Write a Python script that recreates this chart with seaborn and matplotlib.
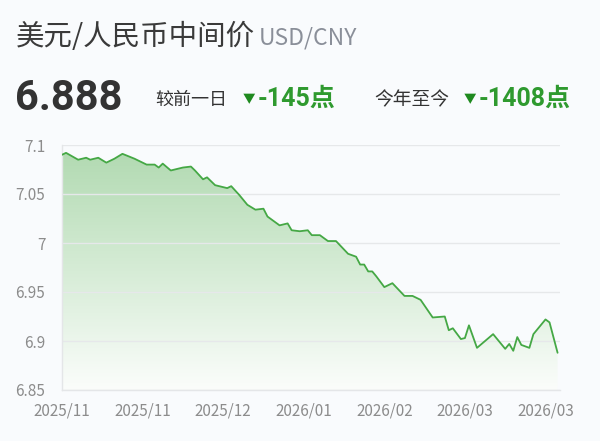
import numpy as np
import matplotlib
matplotlib.use("Agg")
import matplotlib.pyplot as plt
import seaborn as sns
from matplotlib.colors import LinearSegmentedColormap

# trading-day index (from first date shown) and USD/CNY central parity
day = [0, 1, 4, 6, 7, 9, 11, 13, 15, 18,
       21, 23, 24, 25, 27, 30, 32, 33, 35, 36,
       38, 39, 41, 42, 44, 46, 48, 50, 51, 54,
       56, 57, 59, 61, 62, 64, 66, 68, 71, 73,
       74, 75, 76, 77, 78, 80, 82, 85, 87, 88,
       89, 92, 95, 96, 97, 99, 100, 101, 103, 107,
       110, 111, 112, 113, 114, 116, 117, 120, 121, 123]
rate = [7.090, 7.092, 7.085, 7.087, 7.085, 7.087, 7.082, 7.086, 7.091, 7.086,
        7.080, 7.080, 7.077, 7.081, 7.074, 7.077, 7.078, 7.074, 7.065, 7.067,
        7.059, 7.058, 7.056, 7.058, 7.049, 7.039, 7.034, 7.035, 7.027, 7.018,
        7.020, 7.013, 7.012, 7.013, 7.008, 7.008, 7.002, 7.002, 6.989, 6.986,
        6.978, 6.978, 6.971, 6.971, 6.966, 6.955, 6.959, 6.946, 6.946, 6.944,
        6.942, 6.924, 6.925, 6.911, 6.913, 6.902, 6.903, 6.916, 6.893, 6.907,
        6.892, 6.897, 6.890, 6.904, 6.896, 6.893, 6.907, 6.922, 6.919, 6.888]

tick_days = [0, 20, 40, 60, 80, 100, 120]
tick_labels = ["2025/11", "2025/11", "2025/12", "2026/01", "2026/02", "2026/03", "2026/03"]
y_ticks = [6.85, 6.9, 6.95, 7.0, 7.05, 7.1]
y_labels = ["6.85", "6.9", "6.95", "7", "7.05", "7.1"]

latest = "6.888"
day_change = "-145点"
ytd_change = "-1408点"

bg = "#f9fbfd"
green_line = "#45a845"
green_text = "#2f9a2f"

sns.set_theme(style="white")
plt.rcParams["font.family"] = ["Noto Sans CJK SC", "DejaVu Sans"]

fig = plt.figure(figsize=(6, 4.41), dpi=100, facecolor=bg)
ax = fig.add_axes([62 / 600, 1 - 390 / 441, 498 / 600, 245 / 441])
ax.set_facecolor(bg)

xmax = 123.6
ymin, ymax = 6.85, 7.1

# gradient area under the line
cmap = LinearSegmentedColormap.from_list("g", ["#fbfdfb", "#d6ecd6", "#b2dab2"])
grad = np.linspace(0, 1, 256).reshape(-1, 1)
img = ax.imshow(grad, cmap=cmap, aspect="auto", origin="lower",
                extent=[0, xmax, ymin, max(rate)], zorder=0)
poly = ax.fill_between(day, rate, ymin, color="none", lw=0)
img.set_clip_path(poly.get_paths()[0], transform=ax.transData)

sns.lineplot(x=day, y=rate, ax=ax, color=green_line, lw=1.3, zorder=3)

ax.set_xlim(0, xmax)
ax.set_ylim(ymin, ymax)
ax.set_xticks(tick_days)
ax.set_xticklabels(tick_labels)
ax.set_yticks(y_ticks)
ax.set_yticklabels(y_labels)
ax.tick_params(axis="both", length=0, labelsize=11, labelcolor="#8c8c8c")
ax.tick_params(axis="y", pad=12)
ax.tick_params(axis="x", pad=9)
ax.set_axisbelow("line")
ax.yaxis.grid(True, color="#e6e8ea", lw=1)
ax.xaxis.grid(False)
for s in ["top", "right"]:
    ax.spines[s].set_visible(False)
for s in ["left", "bottom"]:
    ax.spines[s].set_color("#e4e6e8")
    ax.spines[s].set_linewidth(1)
ax.set_xlabel("")
ax.set_ylabel("")

# header
def px(x, y):
    return x / 600, 1 - y / 441

num_font = ["Roboto", "Noto Sans CJK SC"]
fig.text(*px(16, 37), "美元/人民币中间价", fontsize=20.5, color="#3a3a3a", va="center")
fig.text(*px(259, 38), "USD/CNY", fontsize=16.5, color="#8a8f99", va="center")
fig.text(*px(15, 98), latest, fontsize=30, color="#333333", va="center",
         family=num_font, weight="bold")
fig.text(*px(155, 100), "较前一日", fontsize=13, color="#333333", va="center")
fig.text(*px(249, 100), "▼", fontsize=9, color="#1f8a1f", va="center", ha="center")
fig.text(*px(258, 99), day_change, fontsize=18, color=green_text, va="center",
         family=num_font, weight="bold")
fig.text(*px(374, 100), "今年至今", fontsize=13.5, color="#333333", va="center")
fig.text(*px(470, 100), "▼", fontsize=9, color="#1f8a1f", va="center", ha="center")
fig.text(*px(479, 99), ytd_change, fontsize=18, color=green_text, va="center",
         family=num_font, weight="bold")

plt.savefig("out.png", dpi=100, facecolor=bg)
